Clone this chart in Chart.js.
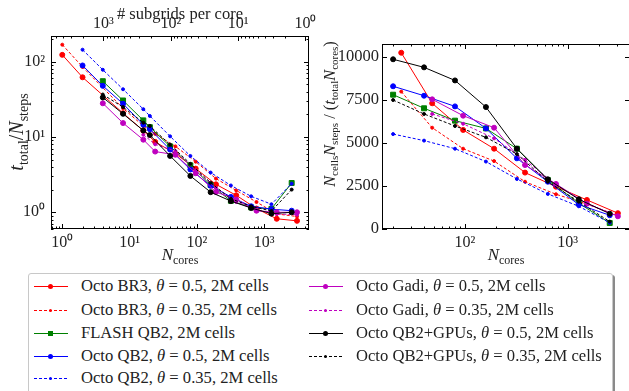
<!DOCTYPE html>
<html lang="en">
<head>
<meta charset="UTF-8">
<title>Scaling: time per step and throughput per core</title>
<script src="https://cdn.jsdelivr.net/npm/chart.js"></script>
<style>
  body { margin:0; width:629px; height:391px; overflow:hidden; background:#fff; position:relative;
         font-family:"Liberation Serif", serif; }
  #left { position:absolute; left:0; top:0; }
  #right { position:absolute; left:300px; top:0; }
  #legend { position:absolute; left:28px; top:273px; width:583px; height:130px;
            border:1px solid #c8c8c8; border-radius:3px; box-shadow:2px 2px 0 #8a8a8a; background:#fff; }
  .item { position:absolute; font-size:16.6px; line-height:18px; white-space:nowrap; color:#222; }
  .item svg { position:absolute; left:-47px; top:5px; }
</style>
</head>
<body>
<canvas id="left" width="320" height="270"></canvas>
<canvas id="right" width="335" height="270"></canvas>
<div id="legend"></div>

<script>
// total number of subgrids (2M cells / 8^3) -> top axis of left panel
const subgridsTotal = 4096;

// ---- left panel: t_total / N_steps vs N_cores ----
const coresBR3   = [1, 2, 8, 16, 24, 48, 96, 192, 384, 768, 1536, 3072];
const coresQB2   = [2, 4, 8, 16, 20, 40, 80, 160, 320, 640, 1280, 2560];
const coresFlash = [4, 8, 16, 20, 40, 80, 160, 320, 640, 1280, 2560];
const coresGPU   = [4, 8, 16, 20, 40, 80, 160, 320, 640, 1280, 2560];
const coresGadi  = [4, 8, 16, 24, 48, 96, 192, 384, 768, 1536, 3072];
const coresGadi035 = [16, 24, 48, 96, 192, 384, 768, 1536, 3072];

const timeBR3_05  = [123, 62, 20.7, 12.1, 8.6, 6.0, 3.8, 2.35, 1.68, 1.12, 0.82, 0.77];
const timeBR3_035 = [168, 85, 24, 14, 11, 7.5, 4.7, 2.8, 1.95, 1.37, 0.95, 0.88];
const timeFlash   = [55, 30.5, 16.6, 13.5, 7.5, 4.2, 2.3, 1.42, 1.16, 1.11, 2.45];
const timeQB2_05  = [89, 47.7, 27.6, 14.5, 12.7, 6.8, 3.7, 2.25, 1.6, 1.2, 1.1, 1.05];
const timeQB2_035 = [144, 78, 43, 23.4, 19, 10.2, 5.6, 3.37, 2.27, 1.63, 1.28, 2.4];
const timeGadi_05 = [28, 15.3, 9.2, 6.4, 5.8, 3.3, 1.86, 1.48, 1.05, 1.0, 1.0];
const timeGadi_035 = [10.7, 8.0, 6.5, 3.6, 2.1, 1.37, 1.07, 0.95, 0.93];
const timeGPU_05  = [33.5, 20.3, 12.2, 10.6, 5.6, 3.04, 1.85, 1.41, 1.14, 0.96, 1.0];
const timeGPU_035 = [36.6, 24.9, 15.5, 14, 7.9, 4.4, 2.47, 1.51, 1.2, 1.04, 2.0];

// ---- right panel: N_cells N_steps / (t_total N_cores) ----
const effCoresBR3  = [24, 48, 96, 192, 384, 768, 1536, 3072];
const effCoresQB2  = [20, 40, 80, 160, 320, 640, 1280, 2560];
const effCoresGadi = [48, 96, 192, 384, 768, 1536, 3072];

const effBR3_05  = [10230, 7290, 5740, 4650, 3260, 2440, 1670, 900];
const effBR3_035 = [7970, 5870, 4650, 3930, 2730, 2000, 1430, 760];
const effFlash   = [7790, 7000, 6280, 5830, 4650, 2830, 1480, 330];
const effQB2_05  = [8280, 7730, 7110, 5830, 4090, 2730, 1400, 780];
const effQB2_035 = [5500, 5120, 4650, 3900, 2890, 2020, 1300, 340];
const effGadi_05 = [7520, 6570, 5870, 3700, 2600, 1450, 720];
const effGadi_035 = [6670, 6100, 5250, 4000, 2550, 1450, 740];
const effGPU_05  = [9850, 9380, 8620, 7070, 4650, 2870, 1710, 870];
const effGPU_035 = [7480, 6670, 5970, 5310, 4340, 2730, 1570, 410];

// tick labels
const leftXTicks = [1, 10, 100, 1000];
const leftYTicks = [1, 10, 100];
const topTicks = [1, 10, 100, 1000];
const rightXTicks = [100, 1000];
const rightYTicks = [0, 2500, 5000, 7500, 10000];

const series = [
  { name: 'Octo BR3', theta: '0.5', color: '#ff0000', dash: false, marker: 'circle', cores: coresBR3, time: timeBR3_05, effCores: effCoresBR3, eff: effBR3_05 },
  { name: 'Octo BR3', theta: '0.35', color: '#ff0000', dash: true, marker: 'circle', cores: coresBR3, time: timeBR3_035, effCores: effCoresBR3, eff: effBR3_035 },
  { name: 'FLASH QB2', theta: null, color: '#008000', dash: false, marker: 'rect', cores: coresFlash, time: timeFlash, effCores: effCoresQB2, eff: effFlash },
  { name: 'Octo QB2', theta: '0.5', color: '#0000ff', dash: false, marker: 'circle', cores: coresQB2, time: timeQB2_05, effCores: effCoresQB2, eff: effQB2_05 },
  { name: 'Octo QB2', theta: '0.35', color: '#0000ff', dash: true, marker: 'circle', cores: coresQB2, time: timeQB2_035, effCores: effCoresQB2, eff: effQB2_035 },
  { name: 'Octo Gadi', theta: '0.5', color: '#bf00bf', dash: false, marker: 'circle', cores: coresGadi, time: timeGadi_05, effCores: effCoresGadi, eff: effGadi_05 },
  { name: 'Octo Gadi', theta: '0.35', color: '#bf00bf', dash: true, marker: 'circle', cores: coresGadi035, time: timeGadi_035, effCores: effCoresGadi, eff: effGadi_035 },
  { name: 'Octo QB2+GPUs', theta: '0.5', color: '#000000', dash: false, marker: 'circle', cores: coresGPU, time: timeGPU_05, effCores: effCoresQB2, eff: effGPU_05 },
  { name: 'Octo QB2+GPUs', theta: '0.35', color: '#000000', dash: true, marker: 'circle', cores: coresGPU, time: timeGPU_035, effCores: effCoresQB2, eff: effGPU_035 }
];

Chart.defaults.font.family = '"Liberation Serif", serif';
Chart.defaults.color = '#222';

const SERIF = '"Liberation Serif", serif';
const sup = { '0': '⁰', '1': '¹', '2': '²', '3': '³', '-': '⁻' };
function powLabel(v) {
  const e = Math.round(Math.log10(v));
  return '10' + String(e).split('').map(c => sup[c]).join('');
}

function makeDatasets(xKey, yKey) {
  return series.map((s, i) => ({
    data: s[xKey].map((n, k) => ({ x: n, y: s[yKey][k] })),
    borderColor: s.color,
    backgroundColor: s.color,
    borderWidth: 1,
    borderDash: s.dash ? [3, 2] : [],
    pointStyle: s.marker,
    pointRadius: s.marker === 'rect' ? 3.5 : (s.dash ? 1.5 : 2.5),
    pointBorderWidth: 1,
    tension: 0,
    order: series.length - i
  }));
}

// inward ticks + box, matplotlib style
function tickValues(scale, majors) {
  const out = [];
  if (scale.type === 'logarithmic') {
    for (let e = Math.floor(Math.log10(scale.min)); e <= Math.ceil(Math.log10(scale.max)); e++) {
      for (let m = 1; m < 10; m++) {
        const v = m * Math.pow(10, e);
        if (v >= scale.min && v <= scale.max) out.push({ v, major: m === 1 });
      }
    }
  } else {
    majors.forEach(v => out.push({ v, major: true }));
  }
  return out;
}

const framePlugin = {
  id: 'frame',
  afterDraw(chart, args, opts) {
    const { ctx, chartArea: a } = chart;
    ctx.save();
    ctx.strokeStyle = '#000';
    ctx.lineWidth = 1;
    ctx.strokeRect(Math.round(a.left) + 0.5, Math.round(a.top) + 0.5,
      Math.round(a.right - a.left) - 1, Math.round(a.bottom - a.top) - 1);
    opts.sides.forEach(s => {
      const scale = chart.scales[s.axis];
      tickValues(scale, s.majors).forEach(t => {
        const p = Math.round(scale.getPixelForValue(t.v)) + 0.5;
        const len = t.major ? 5 : 2.5;
        ctx.beginPath();
        if (s.edge === 'bottom') { ctx.moveTo(p, a.bottom); ctx.lineTo(p, a.bottom - len); }
        if (s.edge === 'top') { ctx.moveTo(p, a.top); ctx.lineTo(p, a.top + len); }
        if (s.edge === 'left') { ctx.moveTo(a.left, p); ctx.lineTo(a.left + len, p); }
        if (s.edge === 'right') { ctx.moveTo(a.right, p); ctx.lineTo(a.right - len, p); }
        ctx.stroke();
      });
    });
    ctx.restore();
  }
};

// axis titles with italic symbols and upright subscripts
function drawRich(ctx, parts, x, y, rot, size) {
  const subSize = Math.round(size * 0.7);
  const fontOf = p => (p[1] === 'i' ? 'italic ' : '') + (p[1] === 's' ? subSize : size) + 'px ' + SERIF;
  let w = 0;
  parts.forEach(p => { ctx.font = fontOf(p); w += ctx.measureText(p[0]).width; });
  ctx.save();
  ctx.translate(x, y);
  ctx.rotate(rot);
  ctx.fillStyle = '#222';
  ctx.textBaseline = 'alphabetic';
  let cx = -w / 2;
  parts.forEach(p => {
    ctx.font = fontOf(p);
    ctx.fillText(p[0], cx, p[1] === 's' ? size * 0.58 : size * 0.35);
    cx += ctx.measureText(p[0]).width;
  });
  ctx.restore();
}

const titlePlugin = {
  id: 'richTitles',
  afterDraw(chart, args, opts) {
    opts.items.forEach(it => drawRich(chart.ctx, it.parts, it.x, it.y, it.rot || 0, it.size));
  }
};

const nCores = [['N', 'i'], ['cores', 's']];

new Chart(document.getElementById('left'), {
  type: 'line',
  data: { datasets: makeDatasets('cores', 'time') },
  plugins: [framePlugin, titlePlugin],
  options: {
    responsive: false,
    animation: false,
    layout: { padding: { right: 11, left: 0, top: 0, bottom: 0 } },
    plugins: {
      legend: { display: false },
      tooltip: { enabled: false },
      frame: { sides: [
        { axis: 'x', edge: 'bottom' },
        { axis: 'xTop', edge: 'top' },
        { axis: 'y', edge: 'left' },
        { axis: 'y', edge: 'right' }
      ] },
      richTitles: { items: [
        { parts: [['t', 'i'], ['total', 's'], ['/', ''], ['N', 'i'], ['steps', 's']], x: 16, y: 132, rot: -Math.PI / 2, size: 20 },
        { parts: nCores, x: 180, y: 254, size: 17 },
        { parts: [['# subgrids per core', '']], x: 180, y: 13, size: 16.5 }
      ] }
    },
    scales: {
      x: {
        type: 'logarithmic', position: 'bottom', min: 0.68, max: 4630,
        grid: { display: false, drawTicks: false }, border: { display: false },
        afterBuildTicks: s => { s.ticks = leftXTicks.map(v => ({ value: v })); },
        afterFit: s => { s.height = 41; },
        ticks: { autoSkip: false, maxRotation: 0, padding: 4, font: { size: 16 }, callback: v => powLabel(v) }
      },
      xTop: {
        type: 'logarithmic', position: 'top', reverse: true,
        min: subgridsTotal / 4630, max: subgridsTotal / 0.68,
        grid: { display: false, drawTicks: false }, border: { display: false },
        afterBuildTicks: s => { s.ticks = topTicks.map(v => ({ value: v })); },
        afterFit: s => { s.height = 36; },
        ticks: { autoSkip: false, maxRotation: 0, padding: 3, font: { size: 16 }, callback: v => powLabel(v) }
      },
      y: {
        type: 'logarithmic', position: 'left', min: 0.6, max: 219,
        grid: { display: false, drawTicks: false }, border: { display: false },
        afterBuildTicks: s => { s.ticks = leftYTicks.map(v => ({ value: v })); },
        afterFit: s => { s.width = 51; },
        ticks: { autoSkip: false, padding: 6, font: { size: 16 }, callback: v => powLabel(v) }
      }
    }
  }
});

new Chart(document.getElementById('right'), {
  type: 'line',
  data: { datasets: makeDatasets('effCores', 'eff') },
  plugins: [framePlugin, titlePlugin],
  options: {
    responsive: false,
    animation: false,
    layout: { padding: { right: 3, left: 0, top: 44, bottom: 0 } },
    plugins: {
      legend: { display: false },
      tooltip: { enabled: false },
      frame: { sides: [
        { axis: 'x', edge: 'bottom' },
        { axis: 'x', edge: 'top' },
        { axis: 'y', edge: 'left', majors: rightYTicks },
        { axis: 'y', edge: 'right', majors: rightYTicks }
      ] },
      richTitles: { items: [
        { parts: [['N', 'i'], ['cells', 's'], ['N', 'i'], ['steps', 's'], [' / (', ''], ['t', 'i'], ['total', 's'], ['N', 'i'], ['cores', 's'], [')', '']],
          x: 29, y: 114, rot: -Math.PI / 2, size: 16.3 },
        { parts: nCores, x: 206, y: 254, size: 17 }
      ] }
    },
    scales: {
      x: {
        type: 'logarithmic', position: 'bottom', min: 15.6, max: 4030,
        grid: { display: false, drawTicks: false }, border: { display: false },
        afterBuildTicks: s => { s.ticks = rightXTicks.map(v => ({ value: v })); },
        afterFit: s => { s.height = 41; },
        ticks: { autoSkip: false, maxRotation: 0, padding: 4, font: { size: 16 }, callback: v => powLabel(v) }
      },
      y: {
        type: 'linear', position: 'left', min: -20, max: 10738,
        grid: { display: false, drawTicks: false }, border: { display: false },
        afterBuildTicks: s => { s.ticks = rightYTicks.map(v => ({ value: v })); },
        afterFit: s => { s.width = 82; },
        ticks: { autoSkip: false, padding: 3, font: { size: 16.5 }, callback: v => String(v) }
      }
    }
  }
});

// legend in two columns
const legend = document.getElementById('legend');
const rowTops = [3, 27, 50, 73, 95];
series.forEach((s, i) => {
  const col = i < 5 ? 0 : 1;
  const row = col === 0 ? i : i - 5;
  const el = document.createElement('div');
  el.className = 'item';
  el.style.left = (col === 0 ? 52 : 327) + 'px';
  el.style.top = rowTops[row] + 'px';
  const dash = s.dash ? 'stroke-dasharray="3 2"' : '';
  const r = s.dash ? 1.5 : 2.5;
  const mark = s.marker === 'rect'
    ? `<rect x="14" y="2" width="5" height="5" fill="${s.color}"/>`
    : `<circle cx="16.5" cy="4.5" r="${r}" fill="${s.color}"/>`;
  el.innerHTML = `<svg width="34" height="9"><line x1="0" y1="4.5" x2="34" y2="4.5" stroke="${s.color}" stroke-width="1" ${dash}/>${mark}</svg>`
    + s.name + (s.theta ? `, <i>θ</i> = ${s.theta}` : '') + ', 2M cells';
  legend.appendChild(el);
});
</script>
</body>
</html>
